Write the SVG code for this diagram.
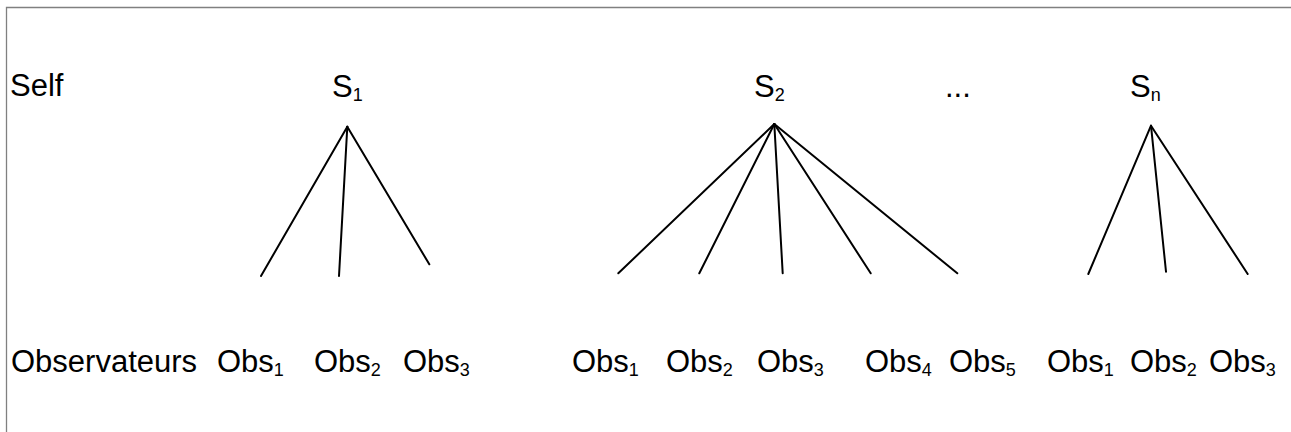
<svg xmlns="http://www.w3.org/2000/svg" width="1291" height="432" viewBox="0 0 1291 432">
  <style>
    text { font-family: "Liberation Sans", Arial, sans-serif; font-size: 31px; fill: #000; }
    .sub { font-size: 18px; }
    .edge { stroke: #000; stroke-width: 2; fill: none; stroke-linecap: round; }
    .frame { stroke: #808080; stroke-width: 1.3; fill: none; }
  </style>
  <rect width="1291" height="432" fill="#fff"/>
  <!-- open frame: top and left edges -->
  <path class="frame" d="M6.5,432 V7.5 H1291"/>

  <g id="row-labels">
    <text x="10" y="96">Self</text>
    <text x="11" y="372">Observateurs</text>
  </g>

  <g id="self-1"><text x="332" y="97">S<tspan class="sub" dy="4">1</tspan></text></g>
  <g id="self-2"><text x="754" y="97">S<tspan class="sub" dy="4">2</tspan></text></g>
  <g id="ellipsis"><text x="945" y="97">...</text></g>
  <g id="self-n"><text x="1130" y="97">S<tspan class="sub" dy="4">n</tspan></text></g>

  <g id="obs-group-1">
    <text x="217" y="372">Obs<tspan class="sub" dy="4">1</tspan></text>
    <text x="314" y="372">Obs<tspan class="sub" dy="4">2</tspan></text>
    <text x="403" y="372">Obs<tspan class="sub" dy="4">3</tspan></text>
  </g>
  <g id="obs-group-2">
    <text x="572" y="372">Obs<tspan class="sub" dy="4">1</tspan></text>
    <text x="666" y="372">Obs<tspan class="sub" dy="4">2</tspan></text>
    <text x="757" y="372">Obs<tspan class="sub" dy="4">3</tspan></text>
    <text x="865" y="372">Obs<tspan class="sub" dy="4">4</tspan></text>
    <text x="949" y="372">Obs<tspan class="sub" dy="4">5</tspan></text>
  </g>
  <g id="obs-group-3">
    <text x="1047" y="372">Obs<tspan class="sub" dy="4">1</tspan></text>
    <text x="1130" y="372">Obs<tspan class="sub" dy="4">2</tspan></text>
    <text x="1209" y="372">Obs<tspan class="sub" dy="4">3</tspan></text>
  </g>

  <g id="connectors">
    <line class="edge" x1="347.3" y1="126.7" x2="261" y2="276"/>
    <line class="edge" x1="347.3" y1="126.7" x2="339" y2="276"/>
    <line class="edge" x1="347.3" y1="126.7" x2="429.3" y2="264.3"/>

    <line class="edge" x1="774.3" y1="124" x2="618.3" y2="273.3"/>
    <line class="edge" x1="774.3" y1="124" x2="699.3" y2="273.3"/>
    <line class="edge" x1="774.3" y1="124" x2="782.7" y2="273.3"/>
    <line class="edge" x1="774.3" y1="124" x2="870.7" y2="273.3"/>
    <line class="edge" x1="774.3" y1="124" x2="957.3" y2="273.3"/>

    <line class="edge" x1="1151" y1="125.7" x2="1088.3" y2="274"/>
    <line class="edge" x1="1151" y1="125.7" x2="1166" y2="271.7"/>
    <line class="edge" x1="1151" y1="125.7" x2="1247.7" y2="274"/>
  </g>
</svg>
